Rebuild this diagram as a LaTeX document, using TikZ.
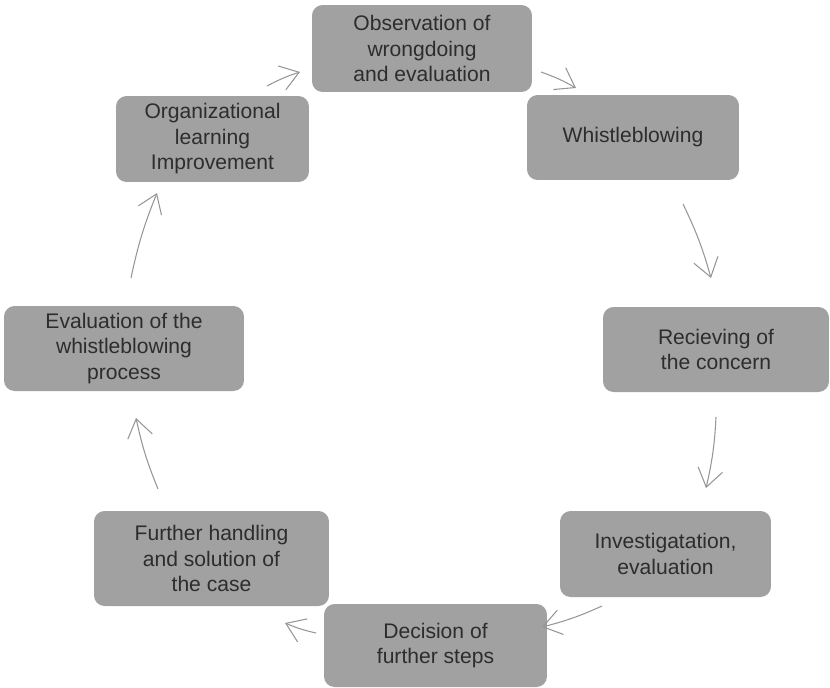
\documentclass[tikz,border=0pt]{standalone}
\usepackage{fontspec}
\setmainfont{Liberation Sans}
\usetikzlibrary{arrows.meta}
\definecolor{boxgray}{RGB}{161,161,161}
\definecolor{txtgray}{RGB}{45,45,45}
\definecolor{arrgray}{RGB}{150,150,150}

\begin{document}
\begin{tikzpicture}[
  x=0.02cm, y=-0.02cm,
  stage/.style={fill=boxgray, rounded corners=6pt, minimum height=1.7cm,
                align=center, text=txtgray, font=\fontsize{12}{14.5}\selectfont, inner sep=2pt},
  arr/.style={-{Straight Barb[length=3.6mm, width=5mm]}, draw=arrgray, line width=0.6pt}
]
\useasboundingbox (0,0) rectangle (830,687);

\node[stage, minimum width=4.4cm, minimum height=1.74cm] (obs) at (422,48.5) {Observation of\\wrongdoing\\and evaluation};
\node[stage, minimum width=4.24cm] (blow) at (633,137.5) {Whistleblowing};
\node[stage, minimum width=4.52cm] (recv) at (716,349.5) {Recieving of\\the concern};
\node[stage, minimum width=4.22cm, minimum height=1.72cm] (inv) at (665.5,554) {Investigatation,\\evaluation};
\node[stage, minimum width=4.46cm, minimum height=1.66cm] (dec) at (435.5,645.5) {Decision of\\further steps};
\node[stage, minimum width=4.7cm, minimum height=1.9cm] (hand) at (211.5,558.5) {Further handling\\and solution of\\the case};
\node[stage, minimum width=4.8cm] (evalp) at (124,348.5) {Evaluation of the\\whistleblowing\\process};
\node[stage, minimum width=3.86cm, minimum height=1.72cm] (learn) at (212.5,139) {Organizational\\learning\\Improvement};

\coordinate (a1) at (267,86);   \coordinate (b1) at (300,72);
\coordinate (a2) at (541,72);   \coordinate (b2) at (576,88);
\coordinate (a3) at (683,204);  \coordinate (b3) at (711,278);
\coordinate (a4) at (716,417);  \coordinate (b4) at (706,488);
\coordinate (a5) at (602,606);  \coordinate (b5) at (542,627);
\coordinate (a6) at (316,633);  \coordinate (b6) at (285,623);
\coordinate (a7) at (158,489);  \coordinate (b7) at (136,418);
\coordinate (a8) at (131,278);  \coordinate (b8) at (157,193);

\draw[arr] (a1) to[bend left=5] (b1);
\draw[arr] (a2) to[bend left=5] (b2);
\draw[arr] (a3) to[bend left=5] (b3);
\draw[arr] (a4) to[bend left=5] (b4);
\draw[arr] (a5) to[bend left=5] (b5);
\draw[arr] (a6) to[bend left=5] (b6);
\draw[arr] (a7) to[bend left=5] (b7);
\draw[arr] (a8) to[bend left=5] (b8);
\end{tikzpicture}
\end{document}
